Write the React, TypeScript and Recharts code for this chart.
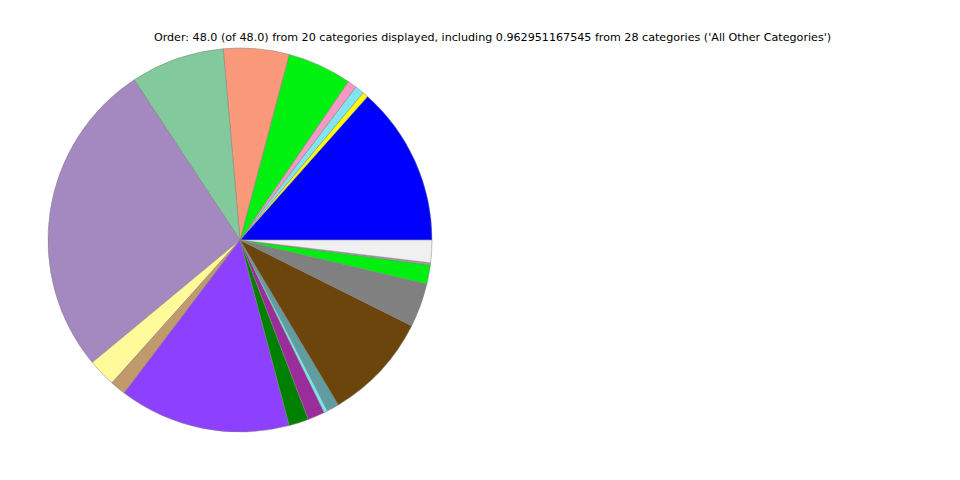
import React from "react";
import { PieChart, Pie, Cell } from "recharts";

// slices in drawing order, counter-clockwise from 3 o'clock
const categories = [
  "A", "B", "C", "D", "E", "F", "G", "H", "I", "J",
  "K", "L", "M", "N", "O", "P", "Q", "R", "S", "All Other Categories",
];
const amounts = [
  6.45, 0.23, 0.37, 0.37, 2.6, 2.65, 3.79, 12.83, 1.13, 0.63,
  6.93, 0.8, 0.69, 0.15, 0.49, 4.35, 1.77, 0.77, 0.09, 0.91,
];
const colors = [
  "#0000ff", "#ffff00", "#7fe5f0", "#f49ac2", "#00f00f",
  "#f9997a", "#82c99b", "#a389bf", "#fffa9a", "#c19a6b",
  "#8e40ff", "#008000", "#9b2d9b", "#78e6f0", "#5f9ea0",
  "#6b450c", "#808080", "#00ee10", "#a0a0a0", "#f0f0f0",
];
const title =
  "Order: 48.0 (of 48.0) from 20 categories displayed, including 0.962951167545 from 28 categories ('All Other Categories')";

const data = categories.map((name, i) => ({ name, value: amounts[i] }));

export default function App() {
  return (
    <div
      style={{
        position: "absolute",
        left: 0,
        top: 0,
        width: 960,
        height: 480,
        background: "#fff",
        fontFamily: "'DejaVu Sans', sans-serif",
      }}
    >
      <PieChart
        width={960}
        height={480}
        margin={{ top: 0, right: 0, bottom: 0, left: 0 }}
      >
        <Pie
          data={data}
          dataKey="value"
          nameKey="name"
          cx={240}
          cy={240}
          outerRadius={192}
          startAngle={0}
          endAngle={360}
          stroke="#808080"
          strokeWidth={0.5}
          isAnimationActive={false}
        >
          {data.map((d, i) => (
            <Cell key={d.name} fill={colors[i]} />
          ))}
        </Pie>
      </PieChart>
      <div
        style={{
          position: "absolute",
          left: 0,
          top: 31,
          width: 985,
          textAlign: "center",
          fontSize: 11.13,
          lineHeight: "14px",
          color: "#000",
          whiteSpace: "nowrap",
        }}
      >
        {title}
      </div>
    </div>
  );
}
